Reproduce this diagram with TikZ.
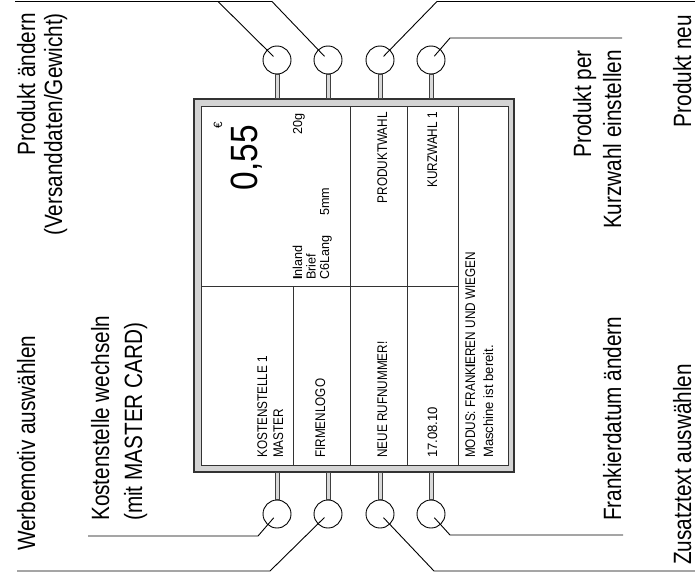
\documentclass[tikz,border=0pt]{standalone}
\usepackage{fontspec}
\setmainfont{Liberation Sans}[FakeStretch=0.83]
\newfontfamily\scrcaps{Liberation Sans}[FakeStretch=0.84]
\newfontfamily\scrlow{Liberation Sans}[FakeStretch=0.97]
\newfontfamily\bigdig{Liberation Sans}[FakeStretch=0.88]
\usetikzlibrary{calc}
\begin{document}
\begin{tikzpicture}[x=1pt,y=-1pt,
  lbl/.style={rotate=90,inner sep=0pt,font=\fontsize{25}{30}\selectfont},
  scap/.style={rotate=90,inner sep=0pt,font=\scrcaps\fontsize{14}{16}\selectfont},
  slow/.style={rotate=90,inner sep=0pt,font=\scrlow\fontsize{13.5}{16}\selectfont},
  sinfo/.style={rotate=90,inner sep=0pt,font=\scrlow\fontsize{13}{15}\selectfont},
  leader/.style={draw=black,line width=0.9pt},
  btn/.style={circle,draw=black,fill=white,line width=0.9pt,minimum size=28pt,inner sep=0pt},
  stem/.style={draw=black!75,fill=black!15,line width=0.6pt},
  divider/.style={draw=black!80,line width=1pt}]
\useasboundingbox (0,0) rectangle (695,578);

% screen
\node[draw=black!80,fill=black!17,line width=1.2pt,minimum width=320pt,minimum height=373pt,inner sep=0pt] (screen) at (354,285.5) {};
\node[draw=black!80,fill=white,line width=1pt,minimum width=307pt,minimum height=359pt,inner sep=0pt] (disp) at (354.5,285.5) {};

\draw[divider] (350,106) -- (350,465);
\draw[divider] (407,106) -- (407,465);
\draw[divider] (458,106) -- (458,465);
\draw[divider] (201,286) -- (458,286);
\draw[divider] (293,286) -- (293,465);

% buttons
\foreach \i/\x in {1/277,2/328,3/380,4/431}{
  \node[btn] (t\i) at (\x,60) {};
  \node[btn] (b\i) at (\x,514) {};
  \draw[stem] ($(t\i.south)+(-2,0)$) rectangle ($(t\i.south |- screen.north)+(2,0)$);
  \draw[stem] ($(b\i.north)+(-2,0)$) rectangle ($(b\i.north |- screen.south)+(2,0)$);
}

% leader coordinates
\coordinate (tl0) at (15,1.5);
\coordinate (tk1) at (218,1.5);
\coordinate (tk2) at (272,1.5);
\coordinate (tk3) at (437,1.5);
\coordinate (tr0) at (695,1.5);
\coordinate (tk4) at (450,38);
\coordinate (tr4) at (622,38);
\coordinate (bk1) at (258,536);
\coordinate (bl1) at (88,536);
\coordinate (bk2) at (270,571);
\coordinate (bl2) at (17,571);
\coordinate (bk3) at (434,571);
\coordinate (br3) at (695,571);
\coordinate (bk4) at (450,535);
\coordinate (br4) at (623,535);

\draw[leader] (tl0) -- (tk2) -- ($(t2)!5pt!(tk2)$);
\draw[leader] (tk1) -- ($(t1)!5pt!(tk1)$);
\draw[leader] (tr0) -- (tk3) -- ($(t3)!5pt!(tk3)$);
\draw[leader] (tr4) -- (tk4) -- ($(t4)!5pt!(tk4)$);
\draw[leader] (bl1) -- (bk1) -- ($(b1)!5pt!(bk1)$);
\draw[leader] (bl2) -- (bk2) -- ($(b2)!5pt!(bk2)$);
\draw[leader] (br3) -- (bk3) -- ($(b3)!5pt!(bk3)$);
\draw[leader] (br4) -- (bk4) -- ($(b4)!5pt!(bk4)$);

% outside labels
\node[lbl,anchor=base east] (pa1) at (35,13) {Produkt ändern};
\node[lbl,anchor=base east] (pa2) at (62,13) {(Versanddaten/Gewicht)};
\node[lbl,anchor=base west] (ks1) at (109,521) {Kostenstelle wechseln};
\node[lbl,anchor=base west] (ks2) at (142,521) {(mit MASTER CARD)};
\node[lbl,anchor=base west] (wm) at (35,551) {Werbemotiv auswählen};
\node[lbl,anchor=base east] (pk1) at (591,50) {Produkt per};
\node[lbl,anchor=base east] (pk2) at (621,50) {Kurzwahl einstellen};
\node[lbl,anchor=base east] (pn) at (691,15) {Produkt neu};
\node[lbl,anchor=base west] (fd) at (621,521) {Frankierdatum ändern};
\node[lbl,anchor=base west] (zt) at (691,565) {Zusatztext auswählen};

% screen texts
\node[rotate=90,inner sep=0pt,font=\scrlow\fontsize{12}{14}\selectfont,anchor=base east] (eur) at (222,122) {€};
\node[rotate=90,inner sep=0pt,font=\bigdig\fontsize{38}{42}\selectfont,anchor=base east] (price) at (257,125) {0,55};
\node[sinfo,anchor=base east] (wgt) at (302,113) {20g};
\node[sinfo,anchor=base west] (inf1) at (302,280) {{\bfseries I}nland};
\node[sinfo,anchor=base west] (inf2) at (315.5,280) {Brief};
\node[sinfo,anchor=base west] (inf3) at (329,280) {C6Lang\hspace{20pt}5mm};
\node[scap,anchor=base east] (pw) at (387,112) {PRODUKTWAHL};
\node[scap,anchor=base east] (kw) at (437,112) {KURZWAHL 1};
\node[scap,anchor=base west] (ko1) at (267,458) {KOSTENSTELLE 1};
\node[scap,anchor=base west] (ko2) at (283,458) {MASTER};
\node[scap,anchor=base west] (fl) at (325,458) {FIRMENLOGO};
\node[scap,anchor=base west] (nr) at (387,458) {NEUE RUFNUMMER!};
\node[slow,anchor=base west] (dt) at (437,458) {17.08.10};
\node[scap,anchor=base west] (md) at (475,458) {MODUS: FRANK{\bfseries I}EREN UND WIEGEN};
\node[slow,anchor=base west] (ms) at (493,458) {Maschine ist bereit.};
\end{tikzpicture}
\end{document}
